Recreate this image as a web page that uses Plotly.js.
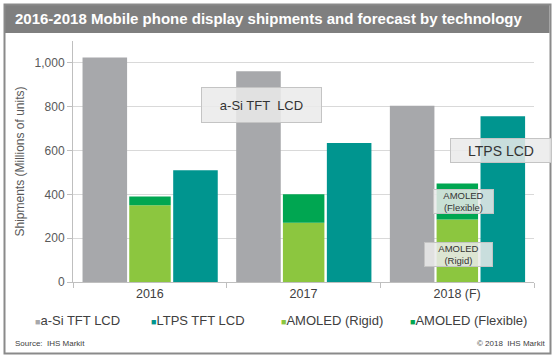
<!DOCTYPE html>
<html>
<head>
<meta charset="utf-8">
<script src="https://cdn.plot.ly/plotly-3.0.1.min.js"></script>
<style>html,body{margin:0;padding:0;background:#fff;}#chart{width:560px;height:361px;}</style>
</head>
<body>
<div id="chart"></div>
<script>
// ---- data ----
const years = ['2016', '2017', '2018 (F)'];
const seriesNames = ['a-Si TFT LCD', 'LTPS TFT LCD', 'AMOLED (Rigid)', 'AMOLED (Flexible)'];
const aSiTftLcd = [1025, 962, 805];
const ltpsTftLcd = [510, 634, 756];
const amoledRigid = [350, 270, 285];
const amoledFlexible = [40, 130, 165];
const yTickValues = [0, 200, 400, 600, 800, 1000];

// ---- styles ----
const colors = ['#a7a8ab', '#00958f', '#8cc63f', '#00a651'];
const FONT = 'Arial, "Liberation Sans", sans-serif';
const W = 560, H = 361;
const M = {l: 73, r: 26, t: 41, b: 79};
const PW = W - M.l - M.r, PH = H - M.t - M.b;
const px = x => (x - M.l) / PW;          // pixel -> paper x
const py = y => (H - M.b - y) / PH;      // pixel -> paper y

const barW = [0.29, 0.27, 0.29];
const barOff = [-0.438, -0.134, 0.152];

const traces = [
  {type: 'bar', name: seriesNames[0], x: years, y: aSiTftLcd, width: barW[0], offset: barOff[0],
   marker: {color: colors[0]}, showlegend: false},
  {type: 'bar', name: seriesNames[2], x: years, y: amoledRigid, width: barW[1], offset: barOff[1],
   marker: {color: colors[2]}, showlegend: false},
  {type: 'bar', name: seriesNames[3], x: years, y: amoledFlexible, base: amoledRigid, width: barW[1], offset: barOff[1],
   marker: {color: colors[3]}, showlegend: false},
  {type: 'bar', name: seriesNames[1], x: years, y: ltpsTftLcd, width: barW[2], offset: barOff[2],
   marker: {color: colors[1]}, showlegend: false}
];

const boxFill = 'rgba(234,234,234,0.86)';
const boxLine = '#c4c4c4';
function box(text, cx, cy, w, h, size) {
  return {xref: 'paper', yref: 'paper', x: px(cx), y: py(cy), xanchor: 'center', yanchor: 'middle',
    text: text, showarrow: false, width: w, height: h, bgcolor: boxFill, bordercolor: boxLine,
    borderwidth: 1, borderpad: 0, font: {family: FONT, size: size, color: '#333333'}, align: 'center'};
}

const annotations = [
  box('a-Si TFT  LCD', 261.2, 105.3, 119, 34, 13),
  box('LTPS LCD', 500.5, 150.2, 100, 23, 14),
  box('AMOLED<br>(Flexible)', 463, 201.8, 59, 23, 9.5),
  box('AMOLED<br>(Rigid)', 458, 254.2, 67, 23, 9.5),
  {xref: 'paper', yref: 'paper', x: px(13), y: py(343.5), xanchor: 'left', yanchor: 'middle',
   text: 'Source:  IHS Markit', showarrow: false, font: {family: FONT, size: 8, color: '#404040'}},
  {xref: 'paper', yref: 'paper', x: px(547), y: py(343.5), xanchor: 'right', yanchor: 'middle',
   text: '© 2018  IHS Markit', showarrow: false, font: {family: FONT, size: 8, color: '#404040'}}
];

// legend built from series names and colours
const legendOrder = [0, 1, 2, 3];
const legendX = [33, 149, 279, 408];
legendOrder.forEach((k, i) => {
  annotations.push({xref: 'paper', yref: 'paper', x: px(legendX[i]), y: py(320), xanchor: 'left', yanchor: 'middle',
    showarrow: false,
    text: '<span style="color:' + colors[k] + ';font-size:9px">■</span>' + seriesNames[k],
    font: {family: FONT, size: 13, color: '#404040'}});
});

const shapes = [
  // title bar
  {type: 'rect', xref: 'paper', yref: 'paper', x0: px(5), x1: px(549.5), y0: py(33), y1: py(5),
   fillcolor: '#7f7f7f', line: {width: 0}, layer: 'below'},
  // outer frame
  {type: 'rect', xref: 'paper', yref: 'paper', x0: px(4.5), x1: px(550.5), y0: py(353.5), y1: py(4.5),
   fillcolor: 'rgba(0,0,0,0)', line: {color: '#8a8a8a', width: 2}}
];

const layout = {
  width: W, height: H,
  margin: M,
  paper_bgcolor: '#ffffff', plot_bgcolor: '#ffffff',
  barmode: 'overlay',
  showlegend: false,
  font: {family: FONT, color: '#595959', size: 12},
  title: {text: '<b>2016-2018 Mobile phone display shipments and forecast by technology</b>',
    xref: 'container', yref: 'container', x: 15 / W, xanchor: 'left', y: 1 - 18.5 / H, yanchor: 'middle',
    font: {family: FONT, size: 15, color: '#ffffff'}},
  xaxis: {type: 'category', range: [-0.5, 2.5], showline: true, linecolor: '#bfbfbf', linewidth: 1,
    ticks: 'outside', ticklen: 5, tickcolor: '#bfbfbf', tickson: 'boundaries', showgrid: false,
    tickfont: {family: FONT, size: 12.5, color: '#404040'}, fixedrange: true},
  yaxis: {range: [0, 1100], tickvals: yTickValues, tickformat: ',', showline: true, linecolor: '#bfbfbf',
    ticks: 'outside', ticklen: 5, tickcolor: '#bfbfbf', gridcolor: '#d9d9d9', zeroline: false,
    tickfont: {family: FONT, size: 12, color: '#595959'},
    title: {text: 'Shipments (Millions of units)', font: {family: FONT, size: 12, color: '#595959'}, standoff: 7},
    automargin: false, fixedrange: true},
  annotations: annotations,
  shapes: shapes
};

Plotly.newPlot('chart', traces, layout, {displayModeBar: false, staticPlot: true});
</script>
</body>
</html>
